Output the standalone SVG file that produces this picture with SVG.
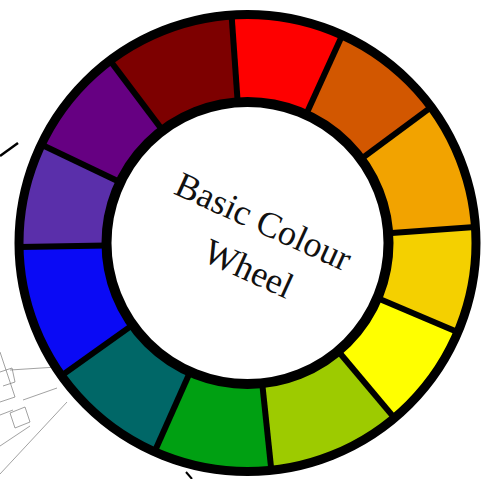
<svg xmlns="http://www.w3.org/2000/svg" width="486" height="479" viewBox="0 0 486 479">
  <style>
    .seg { stroke: none; }
    .div { stroke: #000; stroke-width: 6; stroke-linecap: butt; }
    .sketch { stroke: #7a7a7a; stroke-width: 1; fill: none; opacity: 0.7; }
    .title { font-family: "Liberation Serif", "Times New Roman", serif; font-size: 36px; fill: #111; text-anchor: middle; }
  </style>
  <rect x="0" y="0" width="486" height="479" fill="#ffffff"/>

  <g id="background-sketch">
    <line x1="0" y1="156" x2="18" y2="143" stroke="#000" stroke-width="2.5"/>
    <line x1="186" y1="472" x2="192" y2="479" stroke="#000" stroke-width="2"/>
    <path class="sketch" d="M0,352 L15,397 L0,402"/>
    <path class="sketch" d="M0,372 L12,368 L15,382 L3,386"/>
    <line class="sketch" x1="23" y1="400" x2="57" y2="388"/>
    <line class="sketch" x1="0" y1="415" x2="13" y2="410"/>
    <path class="sketch" d="M10,413 L25,407 L30,422 L15,428 Z"/>
    <line class="sketch" x1="67" y1="402" x2="0" y2="474"/>
    <line class="sketch" x1="0" y1="446" x2="30" y2="426"/>
    <line class="sketch" x1="10" y1="370" x2="57" y2="367" opacity="0.35"/>
  </g>

  <g id="wheel">
    <g id="segment-red"><path class="seg" fill="#FE0000" d="M247.5,243 L231.6,15.5 A228,228 0 0 1 342.1,35.5 Z"/></g>
    <g id="segment-red-orange"><path class="seg" fill="#D25700" d="M247.5,243 L342.1,35.5 A228,228 0 0 1 430.8,107.4 Z"/></g>
    <g id="segment-orange"><path class="seg" fill="#F2A300" d="M247.5,243 L430.8,107.4 A228,228 0 0 1 475.0,227.1 Z"/></g>
    <g id="segment-yellow-orange"><path class="seg" fill="#F4D000" d="M247.5,243 L475.0,227.1 A228,228 0 0 1 457.4,332.1 Z"/></g>
    <g id="segment-yellow"><path class="seg" fill="#FFFF00" d="M247.5,243 L457.4,332.1 A228,228 0 0 1 394.1,417.6 Z"/></g>
    <g id="segment-yellow-green"><path class="seg" fill="#9DCB00" d="M247.5,243 L394.1,417.6 A228,228 0 0 1 271.3,469.7 Z"/></g>
    <g id="segment-green"><path class="seg" fill="#00A012" d="M247.5,243 L271.3,469.7 A228,228 0 0 1 154.8,451.3 Z"/></g>
    <g id="segment-teal"><path class="seg" fill="#006767" d="M247.5,243 L154.8,451.3 A228,228 0 0 1 61.9,375.4 Z"/></g>
    <g id="segment-blue"><path class="seg" fill="#0A0AF5" d="M247.5,243 L61.9,375.4 A228,228 0 0 1 19.5,247.0 Z"/></g>
    <g id="segment-indigo"><path class="seg" fill="#5A2FAA" d="M247.5,243 L19.5,247.0 A228,228 0 0 1 41.7,144.8 Z"/></g>
    <g id="segment-purple"><path class="seg" fill="#660082" d="M247.5,243 L41.7,144.8 A228,228 0 0 1 110.3,60.9 Z"/></g>
    <g id="segment-dark-red"><path class="seg" fill="#7D0000" d="M247.5,243 L110.3,60.9 A228,228 0 0 1 231.6,15.5 Z"/></g>
  </g>

  <g id="dividers">
    <line class="div" x1="237.7" y1="102.3" x2="231.6" y2="15.5"/>
    <line class="div" x1="306.0" y1="114.7" x2="342.1" y2="35.5"/>
    <line class="div" x1="360.9" y1="159.1" x2="430.8" y2="107.4"/>
    <line class="div" x1="388.2" y1="233.2" x2="475.0" y2="227.1"/>
    <line class="div" x1="377.3" y1="298.1" x2="457.4" y2="332.1"/>
    <line class="div" x1="338.1" y1="351.0" x2="394.1" y2="417.6"/>
    <line class="div" x1="262.2" y1="383.2" x2="271.3" y2="469.7"/>
    <line class="div" x1="190.2" y1="371.8" x2="154.8" y2="451.3"/>
    <line class="div" x1="132.7" y1="324.9" x2="61.9" y2="375.4"/>
    <line class="div" x1="106.5" y1="245.5" x2="19.5" y2="247.0"/>
    <line class="div" x1="120.2" y1="182.3" x2="41.7" y2="144.8"/>
    <line class="div" x1="162.6" y1="130.4" x2="110.3" y2="60.9"/>
  </g>

  <g id="rims">
    <circle cx="247.5" cy="243" r="228.5" fill="none" stroke="#000" stroke-width="9"/>
    <circle id="centre" cx="247.5" cy="243" r="141" fill="#ffffff" stroke="#000" stroke-width="10"/>
  </g>

  <g id="label" transform="translate(258.5,232.5) rotate(24.5)">
    <text class="title" x="0" y="0">Basic Colour</text>
    <text class="title" x="6" y="49">Wheel</text>
  </g>
</svg>
